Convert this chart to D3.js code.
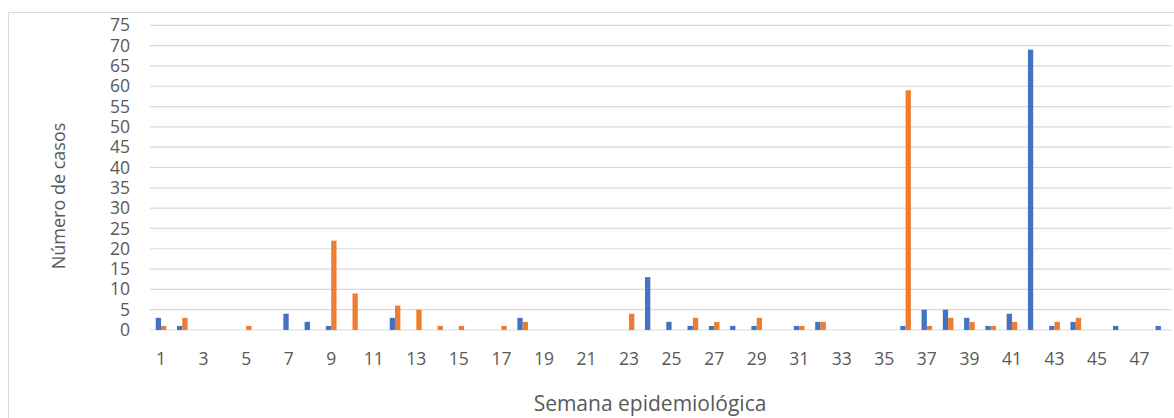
<!DOCTYPE html>
<html>
<head>
<meta charset="utf-8">
<script src="https://cdn.jsdelivr.net/npm/d3@7"></script>
<style>
  html, body { margin: 0; padding: 0; background: #fff; }
  svg { display: block; font-family: "Open Sans", "Noto Sans", sans-serif; }
</style>
</head>
<body>
<svg id="chart" width="1174" height="418"></svg>
<script>
// Data
const weeks = d3.range(1, 49);
const seriesNames = ["Serie 1", "Serie 2"];
const blueValues = [3,1,0,0,0,0,4,2,1,0,0,3,0,0,0,0,0,3,0,0,0,0,0,13,2,1,1,1,1,0,1,2,0,0,0,1,5,5,3,1,4,69,1,2,0,1,0,1];
const orangeValues = [1,3,0,0,1,0,0,0,22,9,0,6,5,1,1,0,1,2,0,0,0,0,4,0,0,3,2,0,3,0,1,2,0,0,0,59,1,3,2,1,2,0,2,3,0,0,0,0];
const yTicks = d3.range(0, 80, 5);
const xTickLabels = weeks.filter(w => w % 2 === 1);
const colors = ["#4472C4", "#ED7D31"];

(function () {
const svg = d3.select("#chart");

// chart border
svg.append("rect")
  .attr("x", 8.5).attr("y", 12.5)
  .attr("width", 1180).attr("height", 430)
  .attr("fill", "none").attr("stroke", "#d9d9d9").attr("stroke-width", 1);

const plotLeft = 150.4, plotRight = 1171.5, plotTop = 25.3, plotBottom = 330;

const x0 = d3.scaleBand().domain(weeks).range([plotLeft, plotRight])
  .paddingInner(0.5).paddingOuter(0.25);
const x1 = d3.scaleBand().domain(seriesNames).range([0, x0.bandwidth()]);
const y = d3.scaleLinear().domain([0, 75]).range([plotBottom, plotTop]);

// gridlines
svg.append("g").selectAll("line").data(yTicks).join("line")
  .attr("x1", 150).attr("x2", plotRight)
  .attr("y1", d => y(d)).attr("y2", d => y(d))
  .attr("stroke", "#d9d9d9").attr("stroke-width", 1.2);

// y axis labels
const yAxis = d3.axisLeft(y).tickValues(yTicks).tickSize(0).tickPadding(0);
const gy = svg.append("g").attr("transform", "translate(130,0)").call(yAxis);
gy.select(".domain").remove();
gy.selectAll("text").attr("fill", "#595959").attr("font-size", "17.5px")
  .attr("font-family", "'Open Sans', sans-serif");

// bars
const data = weeks.map((w, i) => ({ week: w, vals: [blueValues[i], orangeValues[i]] }));
const groups = svg.append("g").selectAll("g").data(data).join("g")
  .attr("transform", d => `translate(${x0(d.week)},0)`);
groups.selectAll("rect")
  .data(d => d.vals.map((v, j) => ({ name: seriesNames[j], v, j })).filter(e => e.v > 0))
  .join("rect")
  .attr("x", d => x1(d.name))
  .attr("width", x1.bandwidth())
  .attr("y", d => y(d.v))
  .attr("height", d => y(0) - y(d.v))
  .attr("fill", d => colors[d.j]);

// x axis
const xAxis = d3.axisBottom(x0).tickValues(xTickLabels).tickSize(0).tickPadding(0);
const gx = svg.append("g").attr("transform", `translate(0,${plotBottom})`).call(xAxis);
gx.select(".domain").remove();
gx.selectAll("text").attr("fill", "#595959").attr("font-size", "17.5px")
  .attr("font-family", "'Open Sans', sans-serif")
  .attr("dy", null).attr("y", 35);

// axis titles
svg.append("text")
  .attr("x", 650).attr("y", 411)
  .attr("text-anchor", "middle")
  .attr("fill", "#595959").attr("font-size", "21px")
  .text("Semana epidemiológica");

svg.append("text")
  .attr("transform", "translate(65,196) rotate(-90)")
  .attr("text-anchor", "middle")
  .attr("fill", "#595959").attr("font-size", "18px")
  .text("Número de casos");
})();
</script>
</body>
</html>
